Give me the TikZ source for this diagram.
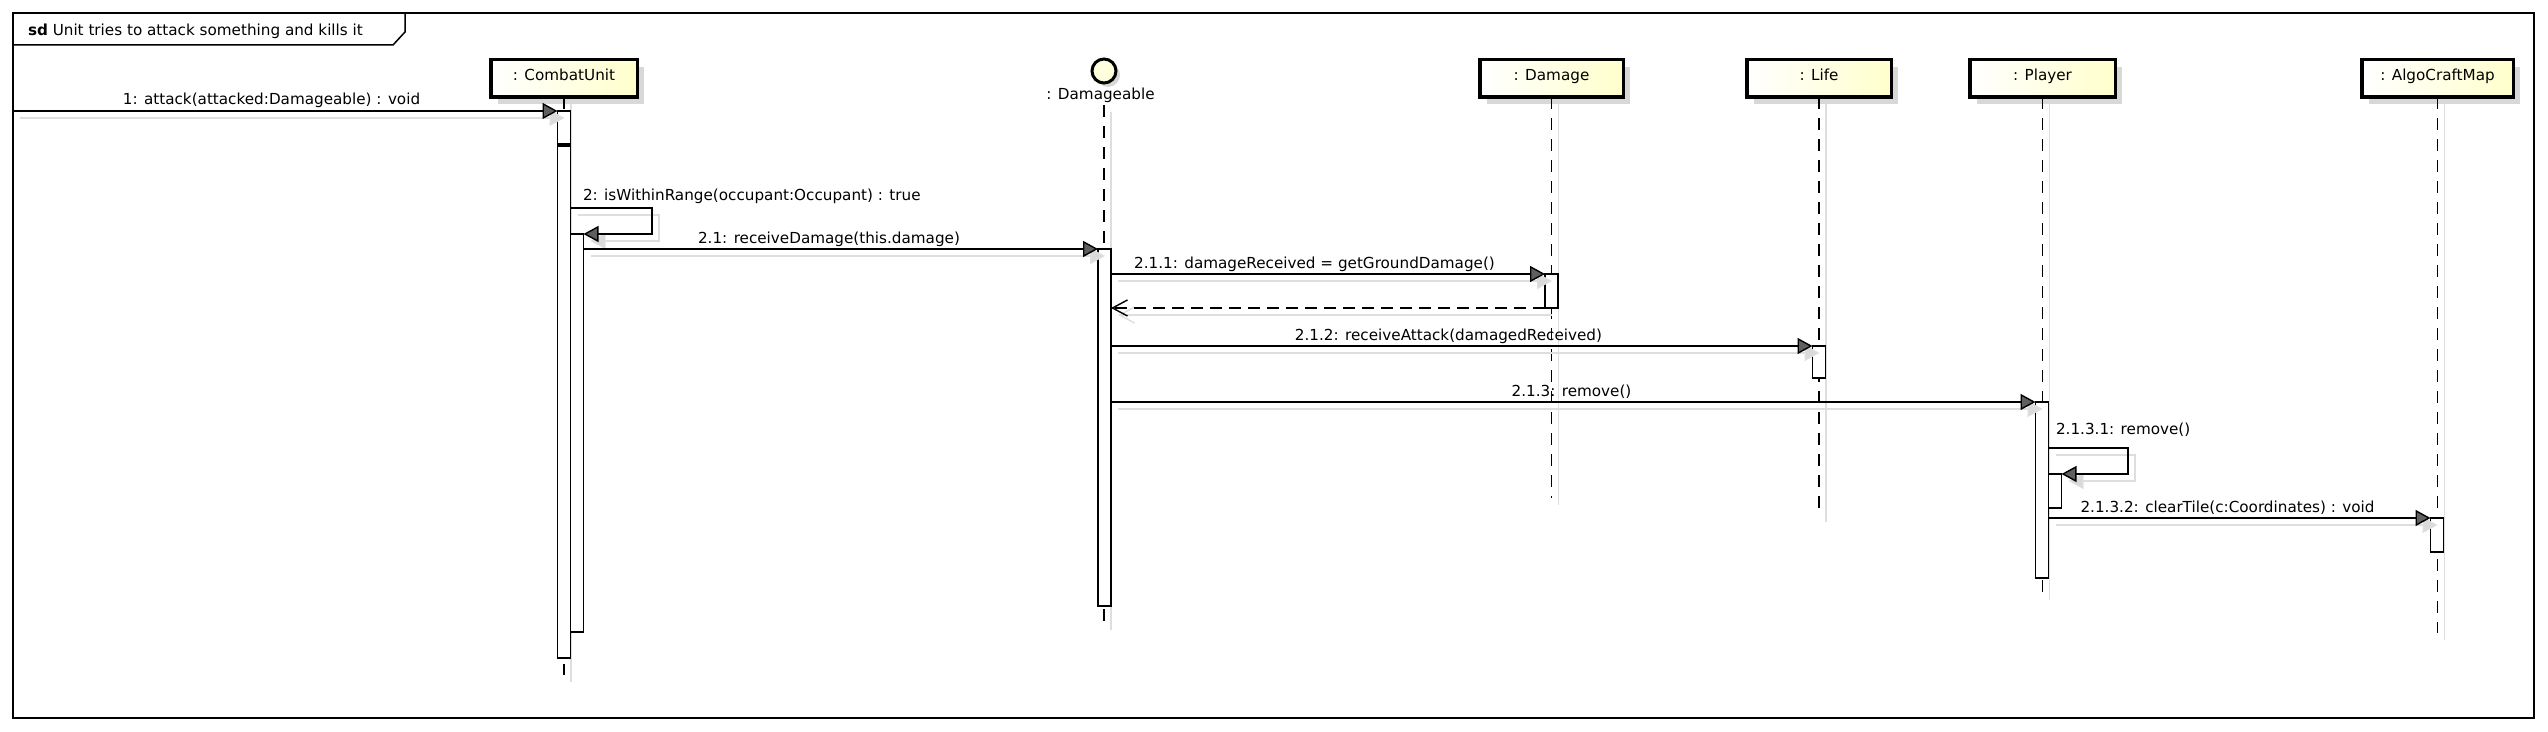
\documentclass[tikz,border=0pt]{standalone}
\usepackage{fontspec}
\setmainfont{DejaVu Sans}
\usetikzlibrary{arrows.meta,shadows}
\definecolor{boxyellow}{RGB}{255,255,204}
\definecolor{circyellow}{RGB}{255,255,221}
\definecolor{shadowgray}{RGB}{216,216,216}
\definecolor{lineshadow}{RGB}{222,222,222}
\definecolor{tipgray}{RGB}{95,95,95}
\definecolor{tipshadow}{RGB}{218,218,218}
\begin{document}
\begin{tikzpicture}[x=0.5pt,y=-0.5pt,
  txt/.style={font=\fontsize{7.6pt}{9pt}\selectfont, inner sep=0pt, outer sep=0pt},
  objbox/.style={txt, draw=black, line width=1.75pt, left color=white, right color=boxyellow,
    minimum height=18.75pt, text height=6pt, text depth=4pt,
    drop shadow={shadow xshift=3.5pt, shadow yshift=-3.5pt, fill=shadowgray, opacity=1}},
  act/.style={draw=black, fill=white, line width=0.7pt, inner sep=0pt, outer sep=0pt, minimum width=6.5pt},
  lifeline/.style={draw=black, line width=0.75pt, dash pattern=on 6pt off 4.5pt},
  lifesh/.style={draw=lineshadow, line width=0.75pt, transform canvas={shift={(7,7)}}},
  msg/.style={draw=black, line width=0.7pt, -{Triangle[length=7.5pt,width=8pt,fill=tipgray]}},
  msgsh/.style={draw=lineshadow, line width=0.7pt, -{Triangle[length=7.5pt,width=8pt,fill=tipshadow]}, transform canvas={shift={(7,7)}}},
  ret/.style={draw=black, line width=0.7pt, dash pattern=on 6pt off 3.5pt, -{Straight Barb[length=7.5pt,width=8pt]}},
  retsh/.style={draw=lineshadow, line width=0.7pt, -{Straight Barb[length=7.5pt,width=8pt]}, transform canvas={shift={(7,7)}}}
]
\useasboundingbox (0,0) rectangle (2548,732);

% frame
\draw[line width=1pt] (13,13) rectangle (2534,718);
\draw[line width=0.75pt] (13,45) -- (393,45) -- (405,32) -- (405,13);
\node[txt, anchor=base west] (title) at (28,36) {\textbf{sd} Unit tries to attack something and kills it};

% lifeline end points
\coordinate (cuE) at (564,675);
\coordinate (dmT) at (1104,105);
\coordinate (dmE) at (1104,623);
\coordinate (dgE) at (1551.5,498);
\coordinate (lfE) at (1819,515);
\coordinate (plE) at (2042.5,593);
\coordinate (amE) at (2437.5,633);

% heads
\node[objbox, minimum width=73.25pt] (cu) at (564,78.5) {: CombatUnit};
\node[objbox, minimum width=71.75pt] (dg) at (1551.5,78.5) {: Damage};
\node[objbox, minimum width=72.25pt] (lf) at (1819,78.5) {: Life};
\node[objbox, minimum width=72.75pt] (pl) at (2042.5,78.5) {: Player};
\node[objbox, minimum width=75.75pt] (am) at (2437.5,78.5) {: AlgoCraftMap};
\node[circle, draw=black, line width=1.5pt, fill=circyellow, minimum size=12pt, inner sep=0pt,
  drop shadow={shadow xshift=2pt, shadow yshift=-2pt, fill=shadowgray, opacity=1}] (dmc) at (1104,71) {};
\node[txt, anchor=base] (dml) at (1100.5,100) {: Damageable};

% lifeline shadows
\draw[lifesh] (cu.south) -- (cuE);
\draw[lifesh] (dmT) -- (dmE);
\draw[lifesh] (dg.south) -- (dgE);
\draw[lifesh] (lf.south) -- (lfE);
\draw[lifesh] (pl.south) -- (plE);
\draw[lifesh] (am.south) -- (amE);

% message labels
\node[txt, anchor=base] (t1) at (271.5,105) {1: attack(attacked:Damageable) : void};
\node[txt, anchor=base west] (t2) at (583,200.5) {2: isWithinRange(occupant:Occupant) : true};
\node[txt, anchor=base] (t21) at (829,243.5) {2.1: receiveDamage(this.damage)};
\node[txt, anchor=base] (t211) at (1314.5,268.5) {2.1.1: damageReceived = getGroundDamage()};
\node[txt, anchor=base] (t212) at (1448.5,340.5) {2.1.2: receiveAttack(damagedReceived)};
\node[txt, anchor=base] (t213) at (1571.5,396.5) {2.1.3: remove()};
\node[txt, anchor=base west] (t2131) at (2056,435) {2.1.3.1: remove()};
\node[txt, anchor=base] (t2132) at (2227.5,512.5) {2.1.3.2: clearTile(c:Coordinates) : void};

% lifelines
\draw[lifeline] (cu.south) -- (cuE);
\draw[lifeline] (dmT) -- (dmE);
\draw[lifeline] (dg.south) -- (dgE);
\draw[lifeline] (lf.south) -- (lfE);
\draw[lifeline] (pl.south) -- (plE);
\draw[lifeline] (am.south) -- (amE);

% activations
\node[act, minimum height=16.5pt] (a1) at (564,127.5) {};
\node[act, minimum height=256pt] (a2) at (564,402) {};
\node[act, minimum height=199pt] (n1) at (577,433) {};
\node[act, minimum height=178.5pt] (d1) at (1104.5,427.5) {};
\node[act, minimum height=17pt] (g1) at (1551.5,291) {};
\node[act, minimum height=16pt] (l1) at (1819,362) {};
\node[act, minimum height=88pt] (p1) at (2042,490) {};
\node[act, minimum height=17pt] (p2) at (2055,491) {};
\node[act, minimum height=17pt] (m1) at (2437,535) {};

% helper points
\coordinate (fl) at (13,111);
\coordinate (s2a) at (652,208);
\coordinate (s2b) at (652,234);
\coordinate (s8a) at (2128,448);
\coordinate (s8b) at (2128,474);

% message shadows
\draw[msgsh] (fl) -- (a1.north west);
\draw[msgsh] (a2.east |- s2a) -- (s2a) -- (s2b) -- (n1.north east);
\draw[msgsh] (n1.east |- d1.north) -- (d1.north west);
\draw[msgsh] (d1.east |- g1.north) -- (g1.north west);
\draw[retsh] (g1.south west) -- (d1.east |- g1.south);
\draw[msgsh] (d1.east |- l1.north) -- (l1.north west);
\draw[msgsh] (d1.east |- p1.north) -- (p1.north west);
\draw[msgsh] (p1.east |- s8a) -- (s8a) -- (s8b) -- (p2.north east);
\draw[msgsh] (p1.east |- m1.north) -- (m1.north west);

% messages
\draw[msg] (fl) -- (a1.north west);
\draw[msg] (a2.east |- s2a) -- (s2a) -- (s2b) -- (n1.north east);
\draw[msg] (n1.east |- d1.north) -- (d1.north west);
\draw[msg] (d1.east |- g1.north) -- (g1.north west);
\draw[ret] (g1.south west) -- (d1.east |- g1.south);
\draw[msg] (d1.east |- l1.north) -- (l1.north west);
\draw[msg] (d1.east |- p1.north) -- (p1.north west);
\draw[msg] (p1.east |- s8a) -- (s8a) -- (s8b) -- (p2.north east);
\draw[msg] (p1.east |- m1.north) -- (m1.north west);
\end{tikzpicture}
\end{document}
